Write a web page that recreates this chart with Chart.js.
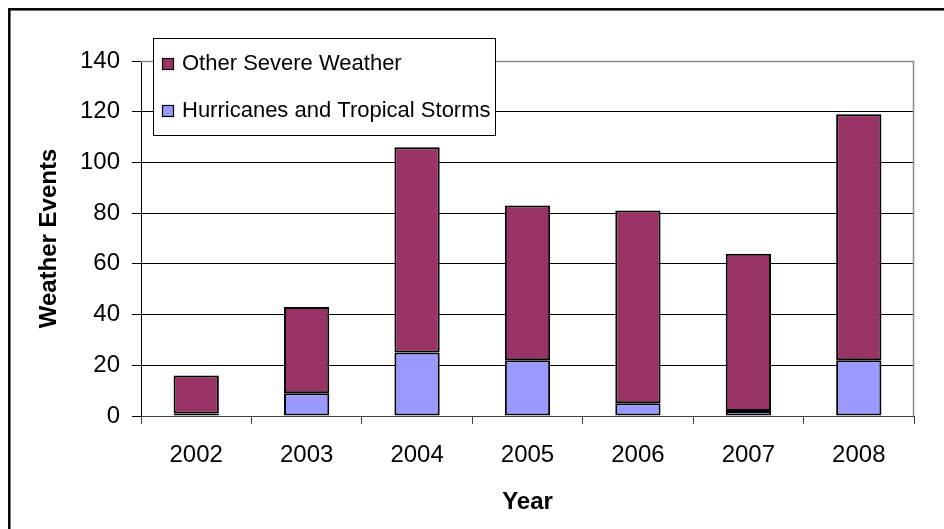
<!DOCTYPE html>
<html>
<head>
<meta charset="utf-8">
<script src="https://cdn.jsdelivr.net/npm/chart.js@4.4.0/dist/chart.umd.min.js"></script>
<style>
  html, body { margin: 0; padding: 0; background: #ffffff; }
  #c { display: block; }
</style>
</head>
<body>
<canvas id="c" width="944" height="529"></canvas>
<script>
// Weather events per year, split by type
const years = ['2002', '2003', '2004', '2005', '2006', '2007', '2008'];
const hurricanes = [1, 9, 25, 22, 5, 2, 22];
const otherSevere = [15, 34, 81, 61, 76, 62, 97];
const yTicks = [0, 20, 40, 60, 80, 100, 120, 140];

const FONT = "'Liberation Sans', Arial, sans-serif";

// White page, outer frame around the chart
const framePlugin = {
  id: 'frame',
  beforeDraw(chart) {
    const ctx = chart.ctx;
    ctx.save();
    ctx.fillStyle = '#ffffff';
    ctx.fillRect(0, 0, chart.width, chart.height);
    ctx.strokeStyle = '#000000';
    ctx.lineWidth = 2.5;
    ctx.strokeRect(9.3, 9.3, chart.width + 20, chart.height + 20);
    ctx.restore();
  }
};

// Grey top and right edges of the plot area
const plotBorderPlugin = {
  id: 'plotBorder',
  beforeDatasetsDraw(chart) {
    const { ctx, chartArea: a } = chart;
    ctx.save();
    ctx.strokeStyle = '#8c8c8c';
    ctx.lineWidth = 1.5;
    ctx.beginPath();
    ctx.moveTo(a.left, a.top + 0.5);
    ctx.lineTo(a.right - 0.5, a.top + 0.5);
    ctx.lineTo(a.right - 0.5, a.bottom);
    ctx.stroke();
    ctx.restore();
  }
};

// Boxed legend floating inside the plot area, top series listed first
const boxLegendPlugin = {
  id: 'boxLegend',
  afterDraw(chart) {
    const ctx = chart.ctx;
    const sets = chart.data.datasets.slice().reverse();
    ctx.save();
    ctx.fillStyle = '#ffffff';
    ctx.fillRect(153, 38, 343, 98);
    ctx.strokeStyle = '#000000';
    ctx.lineWidth = 1;
    ctx.strokeRect(153.5, 38.5, 342, 97);
    const rows = [64, 111];
    ctx.font = '22px ' + FONT;
    ctx.textBaseline = 'middle';
    ctx.textAlign = 'left';
    sets.forEach((ds, i) => {
      const cy = rows[i];
      ctx.fillStyle = ds.backgroundColor;
      ctx.fillRect(162, cy - 6, 12, 12);
      ctx.strokeStyle = '#000000';
      ctx.lineWidth = 1.2;
      ctx.strokeRect(162.5, cy - 5.5, 11, 11);
      ctx.fillStyle = '#000000';
      ctx.fillText(ds.label, 182, cy);
    });
    ctx.restore();
  }
};

new Chart(document.getElementById('c'), {
  type: 'bar',
  data: {
    labels: years,
    datasets: [
      {
        label: 'Hurricanes and Tropical Storms',
        data: hurricanes,
        backgroundColor: '#9999ff',
        borderColor: '#000000',
        borderWidth: 2,
        borderSkipped: false
      },
      {
        label: 'Other Severe Weather',
        data: otherSevere,
        backgroundColor: '#993366',
        borderColor: '#000000',
        borderWidth: 2,
        borderSkipped: false
      }
    ]
  },
  options: {
    responsive: false,
    animation: false,
    devicePixelRatio: 1,
    datasets: { bar: { categoryPercentage: 1, barPercentage: 0.41 } },
    layout: { padding: { left: 0, right: 30, top: 61, bottom: 0 } },
    plugins: {
      legend: { display: false },
      tooltip: { enabled: false }
    },
    scales: {
      x: {
        stacked: true,
        offset: true,
        grid: {
          offset: true,
          display: true,
          drawOnChartArea: false,
          drawTicks: true,
          tickLength: 8,
          color: '#404040'
        },
        border: { display: true, color: '#404040', width: 1 },
        ticks: {
          font: { family: FONT, size: 24 },
          color: '#000000',
          padding: 17,
          maxRotation: 0
        },
        title: {
          display: true,
          text: 'Year',
          color: '#000000',
          font: { family: FONT, size: 24, weight: 'bold' },
          padding: { top: 0, bottom: 12 }
        },
        afterFit(scale) { scale.height = 113; }
      },
      y: {
        stacked: true,
        min: 0,
        max: 140,
        afterBuildTicks(scale) { scale.ticks = yTicks.map(v => ({ value: v })); },
        grid: {
          color: '#000000',
          lineWidth: 1,
          drawTicks: true,
          tickLength: 9
        },
        border: { display: true, color: '#000000', width: 1 },
        ticks: {
          font: { family: FONT, size: 24 },
          color: '#000000',
          padding: 12
        },
        title: {
          display: true,
          text: 'Weather Events',
          color: '#000000',
          font: { family: FONT, size: 24, weight: 'bold' },
          padding: { top: 35, bottom: 0 }
        },
        afterFit(scale) { scale.width = 141; }
      }
    }
  },
  plugins: [framePlugin, plotBorderPlugin, boxLegendPlugin]
});
</script>
</body>
</html>
